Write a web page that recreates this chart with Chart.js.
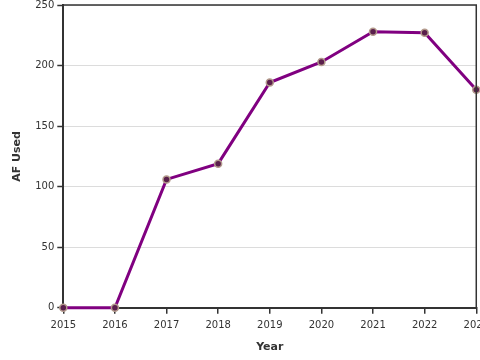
<!DOCTYPE html>
<html>
<head>
<meta charset="utf-8">
<script src="https://cdn.jsdelivr.net/npm/chart.js@4/dist/chart.umd.min.js"></script>
<style>
html,body{margin:0;padding:0;overflow:hidden;background:#fff;}
#wrap{width:495px;height:364px;margin-top:-4px;}
</style>
</head>
<body>
<div id="wrap"><canvas id="c"></canvas></div>
<script>
const years = [2015, 2016, 2017, 2018, 2019, 2020, 2021, 2022, 2023];
const afUsed = [0, 0, 106, 119, 186, 203, 228, 227, 180];
const yTicks = [0, 50, 100, 150, 200, 250];

const boxPlugin = {
  id: 'box',
  afterDraw(chart) {
    const a = chart.chartArea, ctx = chart.ctx;
    ctx.save();
    ctx.strokeStyle = '#333';
    ctx.lineWidth = 1.5;
    ctx.beginPath();
    ctx.moveTo(a.left, a.top);
    ctx.lineTo(a.right, a.top);
    ctx.lineTo(a.right, a.bottom);
    ctx.stroke();
    ctx.restore();
  }
};

Chart.defaults.font.family = 'DejaVu Sans';
Chart.defaults.color = '#333';

new Chart(document.getElementById('c'), {
  type: 'line',
  data: {
    datasets: [{
      data: years.map((y, i) => ({x: y, y: afUsed[i]})),
      borderColor: '#800080',
      borderWidth: 3,
      pointRadius: 3.5,
      pointBackgroundColor: '#5a1f4c',
      pointBorderColor: '#b39a8c',
      pointBorderWidth: 1.5,
      tension: 0,
      clip: false
    }]
  },
  options: {
    responsive: true,
    maintainAspectRatio: false,
    animation: false,
    layout: {padding: {top: 0, right: 0, left: 7, bottom: 2}},
    plugins: {legend: {display: false}, tooltip: {enabled: false}},
    scales: {
      x: {
        type: 'linear',
        min: years[0],
        max: years[years.length - 1],
        afterBuildTicks(s) { s.ticks = years.map(v => ({value: v})); },
        ticks: {font: {size: 10}, color: '#333', maxRotation: 0, padding: 6, callback: v => String(v)},
        grid: {drawOnChartArea: false, drawTicks: true, tickLength: 6, color: '#333', lineWidth: 1.5},
        border: {color: '#333', width: 2},
        title: {display: true, text: 'Year', font: {size: 11, weight: 'bold'}, color: '#333', padding: {top: 3}}
      },
      y: {
        min: 0,
        max: 250,
        afterBuildTicks(s) { s.ticks = yTicks.map(v => ({value: v})); },
        ticks: {font: {size: 10}, color: '#333', padding: 3},
        grid: {color: '#dcdcdc', lineWidth: 1, drawTicks: true, tickLength: 6, tickColor: '#333', tickWidth: 1.5},
        border: {color: '#333', width: 2},
        title: {display: true, text: 'AF Used', font: {size: 11, weight: 'bold'}, color: '#333', padding: {bottom: 8}}
      }
    }
  },
  plugins: [boxPlugin]
});
</script>
</body>
</html>
